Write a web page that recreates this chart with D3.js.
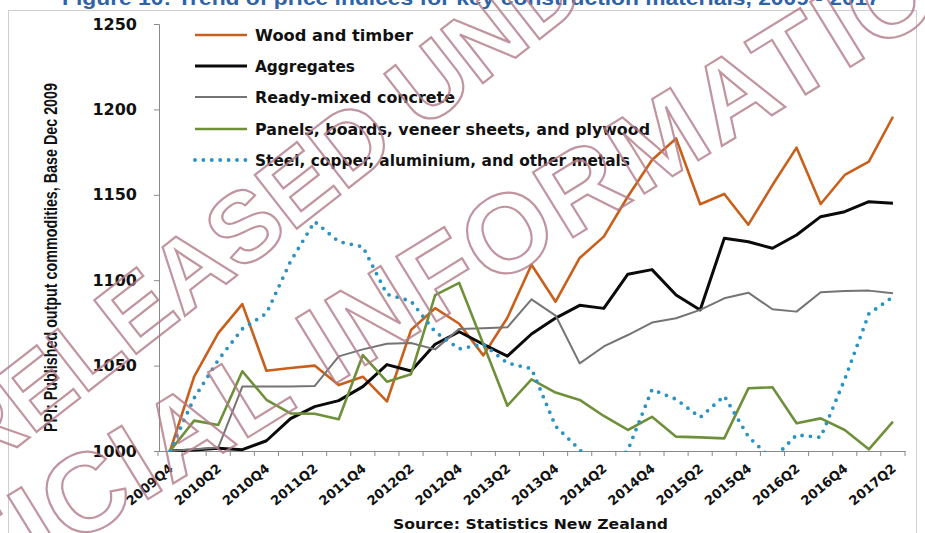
<!DOCTYPE html>
<html>
<head>
<meta charset="utf-8">
<script src="https://cdn.jsdelivr.net/npm/d3@7"></script>
<style>
  html, body { margin: 0; padding: 0; background: #ffffff; }
  svg { display: block; }
</style>
</head>
<body>
<svg id="chart" width="925" height="533"></svg>
<script>
// Quarterly categories, 2009Q4 to 2017Q2
const quarters = [
  "2009Q4",
  "2010Q1", "2010Q2", "2010Q3", "2010Q4",
  "2011Q1", "2011Q2", "2011Q3", "2011Q4",
  "2012Q1", "2012Q2", "2012Q3", "2012Q4",
  "2013Q1", "2013Q2", "2013Q3", "2013Q4",
  "2014Q1", "2014Q2", "2014Q3", "2014Q4",
  "2015Q1", "2015Q2", "2015Q3", "2015Q4",
  "2016Q1", "2016Q2", "2016Q3", "2016Q4",
  "2017Q1", "2017Q2"
];

// PPI output index values (base Dec 2009 = 1000)
const woodTimber = [1000, 1043.5, 1069, 1086, 1047, 1048.6, 1050, 1038.6, 1043.5, 1029, 1070.8,
  1083.6, 1074.5, 1056, 1078, 1109, 1087.4, 1113, 1125.5, 1149, 1170.4,
  1183, 1144.5, 1150.5, 1132.5, 1155.7, 1177.6, 1144.6, 1161.6, 1169.4, 1195.7];
const aggregates = [1000, 1000.6, 1001.6, 1000.8, 1006, 1019, 1026, 1029.5, 1037.7, 1050.6, 1046.8,
  1062.5, 1069.8, 1062.5, 1055.5, 1068.5, 1077.8, 1085.3, 1083.5, 1103.5, 1106.2,
  1091.3, 1082.6, 1124.5, 1122.5, 1118.7, 1126.5, 1137.2, 1140.1, 1146, 1145];
const readyMixedConcrete = [1000, 1001, 1002, 1037.7, 1037.7, 1037.7, 1038, 1055.4, 1059.5, 1062.8, 1063.2,
  1059.5, 1071.5, 1071.8, 1072.4, 1088.8, 1079.3, 1051.3, 1061.2, 1067.9, 1075.2,
  1077.7, 1082.6, 1089.4, 1092.7, 1083, 1081.6, 1092.9, 1093.7, 1093.9, 1092.3];
const panelsBoards = [1000, 1017.8, 1015.2, 1046.7, 1030, 1022, 1021.8, 1018.6, 1056.2, 1040.6, 1045,
  1091.3, 1098.4, 1062.7, 1026.5, 1042, 1034.2, 1029.9, 1020.5, 1012.3, 1020,
  1008.4, 1008, 1007.4, 1036.7, 1037.3, 1016.2, 1019.1, 1012.3, 1001, 1017.2];
const steelMetals = [1000, 1031, 1053.3, 1071.5, 1080.6, 1111, 1134.3, 1122.6, 1119.6, 1091.8, 1087.7,
  1069.8, 1059.8, 1062.5, 1051.5, 1048.2, 1014.5, 1000.8, 985, 1000.5, 1036,
  1030.3, 1019.7, 1032.2, 1008.4, 995, 1009.4, 1008, 1042, 1080.3, 1090.3];

const seriesNames = [
  "Wood and timber",
  "Aggregates",
  "Ready-mixed concrete",
  "Panels, boards, veneer sheets, and plywood",
  "Steel, copper, aluminium, and other metals"
];

const yTicks = [1000, 1050, 1100, 1150, 1200, 1250];
const xLabelQuarters = quarters.filter((q, i) => i % 2 === 0);

const titleText = "Figure 10: Trend of price indices for key construction materials, 2009 - 2017";
const yAxisTitle = "PPI: Published output commodities, Base Dec 2009";
const sourceText = "Source: Statistics New Zealand";

// Line styles per series
const series = [
  { name: seriesNames[0], values: woodTimber,         color: "#c8601c", width: 2.6, dash: null },
  { name: seriesNames[1], values: aggregates,         color: "#0a0a0a", width: 3.0, dash: null },
  { name: seriesNames[2], values: readyMixedConcrete, color: "#747474", width: 2.0, dash: null },
  { name: seriesNames[3], values: panelsBoards,       color: "#6f903a", width: 2.6, dash: null },
  { name: seriesNames[4], values: steelMetals,        color: "#2b92c3", width: 3.8, dash: "0 8.4" }
];

const svg = d3.select("#chart");
const plot = { left: 158, right: 905, top: 24, bottom: 451 };

const x = d3.scaleBand().domain(quarters).range([plot.left, plot.right]).paddingInner(0).paddingOuter(0);
const cx = q => x(q) + x.bandwidth() / 2;
const y = d3.scaleLinear().domain([1000, 1250]).range([plot.bottom, plot.top]);

const bodyFont = "'DejaVu Sans', Verdana, sans-serif";

// Outer frame
svg.append("rect")
  .attr("x", 8.5).attr("y", 10.5)
  .attr("width", 908).attr("height", 540)
  .attr("fill", "none").attr("stroke", "#cfcfcf").attr("stroke-width", 1);

// Title, running off the top edge
svg.append("text")
  .attr("x", 62).attr("y", 5)
  .attr("fill", "#2f63a8")
  .attr("font-family", "'Liberation Sans', Arial, sans-serif")
  .attr("font-weight", "bold")
  .attr("font-size", 20)
  .attr("textLength", 818)
  .attr("lengthAdjust", "spacingAndGlyphs")
  .text(titleText);

// Y axis
const yAxis = d3.axisLeft(y).tickValues(yTicks).tickSize(5).tickPadding(17).tickFormat(d3.format("d"));
const gy = svg.append("g").attr("transform", `translate(${plot.left + 1},0)`).call(yAxis);
gy.select(".domain").attr("stroke", "#8a8a8a");
gy.selectAll(".tick line").attr("stroke", "#8a8a8a");
gy.selectAll(".tick text")
  .attr("font-family", bodyFont)
  .attr("font-weight", "bold")
  .attr("font-size", 16)
  .attr("fill", "#111");

// X axis: ticks on category boundaries, labels on every second quarter
const xAxis = d3.axisBottom(x).tickSize(5).tickSizeOuter(0)
  .tickFormat(q => xLabelQuarters.includes(q) ? q : "");
const gx = svg.append("g").attr("transform", `translate(0,${plot.bottom})`).call(xAxis);
gx.select(".domain").attr("stroke", "#8a8a8a");
gx.selectAll(".tick line")
  .attr("stroke", "#8a8a8a")
  .attr("transform", `translate(${-x.bandwidth() / 2},0)`);
gx.append("line")
  .attr("x1", plot.right).attr("x2", plot.right)
  .attr("y1", 0).attr("y2", 5)
  .attr("stroke", "#8a8a8a");
gx.selectAll(".tick text")
  .attr("x", 0).attr("y", 0).attr("dy", 0)
  .attr("text-anchor", "end")
  .attr("transform", "translate(4,19) rotate(-40)")
  .attr("font-family", bodyFont)
  .attr("font-weight", "bold")
  .attr("font-size", 13)
  .attr("fill", "#111");

// Y axis title
svg.append("text")
  .attr("transform", `translate(57,${(83 + 432) / 2}) rotate(-90)`)
  .attr("text-anchor", "middle")
  .attr("font-family", "'Liberation Sans Narrow', 'Arial Narrow', 'Liberation Sans', sans-serif")
  .attr("font-weight", "bold")
  .attr("font-size", 18)
  .attr("textLength", 349)
  .attr("lengthAdjust", "spacingAndGlyphs")
  .attr("fill", "#111")
  .text(yAxisTitle);

// Source note
svg.append("text")
  .attr("x", 393).attr("y", 529)
  .attr("font-family", bodyFont)
  .attr("font-weight", "bold")
  .attr("font-size", 14)
  .attr("textLength", 275)
  .attr("lengthAdjust", "spacingAndGlyphs")
  .attr("fill", "#111")
  .text(sourceText);

// Clip the series to the plot area
svg.append("clipPath").attr("id", "plotClip")
  .append("rect")
  .attr("x", plot.left).attr("y", plot.top - 2)
  .attr("width", plot.right - plot.left).attr("height", plot.bottom - plot.top + 3);

const line = d3.line()
  .x((d, i) => cx(quarters[i]))
  .y(d => y(d))
  .curve(d3.curveLinear);

const gLines = svg.append("g").attr("clip-path", "url(#plotClip)");
series.forEach(s => {
  gLines.append("path")
    .datum(s.values)
    .attr("d", line)
    .attr("fill", "none")
    .attr("stroke", s.color)
    .attr("stroke-width", s.width)
    .attr("stroke-linejoin", "round")
    .attr("stroke-linecap", s.dash ? "round" : "butt")
    .attr("stroke-dasharray", s.dash);
});

// Legend
const legendRows = [35, 66, 97, 129, 160];
const legendWidths = [158, 100, 200, 395, 375];
const gLeg = svg.append("g");
series.forEach((s, i) => {
  const ly = legendRows[i];
  gLeg.append("line")
    .attr("x1", 195).attr("x2", 247)
    .attr("y1", ly).attr("y2", ly)
    .attr("stroke", s.color)
    .attr("stroke-width", s.width)
    .attr("stroke-linecap", s.dash ? "round" : "butt")
    .attr("stroke-dasharray", s.dash);
  gLeg.append("text")
    .attr("x", 255).attr("y", ly + 5.5)
    .attr("font-family", bodyFont)
    .attr("font-weight", "bold")
    .attr("font-size", 15)
    .attr("textLength", legendWidths[i])
    .attr("lengthAdjust", "spacingAndGlyphs")
    .attr("fill", "#111")
    .text(s.name);
});

// Stamp overlay across the chart
const stampLines = [
  { text: "RELEASED UNDER THE", x: -25, y: 480, angle: -38, size: 99, spacing: 0 },
  { text: "OFFICIAL INFORMATION ACT", x: -156, y: 686, angle: -31.6, size: 111, spacing: 3.3 }
];
const gStamp = svg.append("g").attr("pointer-events", "none");
stampLines.forEach(l => {
  gStamp.append("text")
    .attr("transform", `translate(${l.x},${l.y}) rotate(${l.angle})`)
    .attr("font-family", "'Liberation Sans', Arial, sans-serif")
    .attr("font-weight", "bold")
    .attr("font-size", l.size)
    .attr("letter-spacing", l.spacing)
    .attr("fill", "none")
    .attr("stroke", "#b27a87")
    .attr("stroke-width", 2.2)
    .attr("stroke-opacity", 0.8)
    .text(l.text);
});
</script>
</body>
</html>
